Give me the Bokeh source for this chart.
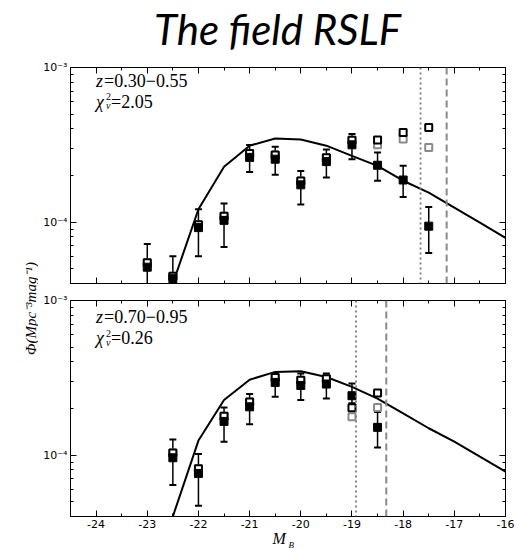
import math
from bokeh.plotting import figure
from bokeh.layouts import row, column
from bokeh.models import (ColumnDataSource, Span, Label, FixedTicker, LogAxis,
                          LinearAxis, CustomJSTickFormatter, Range1d)
from bokeh.embed import file_html
from bokeh.resources import INLINE

# ---------------- data ----------------
x_ticks = [-24, -23, -22, -21, -20, -19, -18, -17, -16]
x_tick_labels = ["-24", "-23", "-22", "-21", "-20", "-19", "-18", "-17", "-16"]
x_minor = [-24.5, -23.5, -22.5, -21.5, -20.5, -19.5, -18.5, -17.5, -16.5]
y_ticks = [1e-4, 1e-3]
y_tick_labels = ["10⁻⁴", "10⁻³"]
y_minor = [4e-5, 5e-5, 6e-5, 7e-5, 8e-5, 9e-5,
           2e-4, 3e-4, 4e-4, 5e-4, 6e-4, 7e-4, 8e-4, 9e-4]

# top panel: z = 0.30-0.55
top_mag = [-23, -22.5, -22, -21.5, -21, -20.5, -20, -19.5, -19, -18.5, -18, -17.5]
top_phi = [5.1e-5, 4.3e-5, 9.2e-5, 1.025e-4, 2.62e-4, 2.55e-4, 1.74e-4, 2.46e-4, 3.16e-4, 2.33e-4, 1.87e-4, 9.4e-5]
top_up = [7.2e-5, 6.0e-5, 1.21e-4, 1.32e-4, 3.15e-4, 3.07e-4, 2.14e-4, 2.95e-4, 3.71e-4, 2.82e-4, 2.31e-4, 1.25e-4]
top_lo = [3.0e-5, 3.0e-5, 6.0e-5, 6.9e-5, 2.11e-4, 2.02e-4, 1.30e-4, 1.94e-4, 2.55e-4, 1.85e-4, 1.45e-4, 6.3e-5]
top_open_k = [5.45e-5, 4.45e-5, 9.6e-5, 1.09e-4, 2.78e-4, 2.71e-4, 1.84e-4, 2.61e-4, 3.38e-4, 3.39e-4, 3.80e-4, 4.09e-4]
top_open_g = [5.45e-5, 4.45e-5, 9.6e-5, 1.09e-4, 2.78e-4, 2.71e-4, 1.84e-4, 2.61e-4, 3.38e-4, 3.16e-4, 3.44e-4, 3.04e-4]
top_fit_mag = [-22.5, -22, -21.5, -21, -20.5, -20, -19.5, -19, -18.5, -18, -17.5, -17, -16.5, -16]
top_fit = [4.0e-5, 1.21e-4, 2.28e-4, 3.12e-4, 3.47e-4, 3.42e-4, 3.12e-4, 2.68e-4, 2.31e-4, 1.85e-4, 1.55e-4, 1.24e-4, 9.9e-5, 7.9e-5]
top_limit_dot = -17.66
top_limit_dash = -17.15
top_z = "=0.30−0.55"
top_chi = "=2.05"

# bottom panel: z = 0.70-0.95
bot_mag = [-22.5, -22, -21.5, -21, -20.5, -20, -19.5, -19, -18.5]
bot_phi = [9.6e-5, 7.6e-5, 1.65e-4, 2.05e-4, 2.95e-4, 2.82e-4, 2.88e-4, 2.42e-4, 1.51e-4]
bot_up = [1.26e-4, 1.015e-4, 2.03e-4, 2.48e-4, 3.25e-4, 3.37e-4, 3.37e-4, 2.90e-4, 1.90e-4]
bot_lo = [6.4e-5, 4.7e-5, 1.22e-4, 1.58e-4, 2.38e-4, 2.27e-4, 2.32e-4, 2.16e-4, 1.12e-4]
bot_open_k = [1.03e-4, 8.15e-5, 1.78e-4, 2.20e-4, 3.17e-4, 3.05e-4, 3.12e-4, 2.02e-4, 2.52e-4]
bot_open_g = [1.03e-4, 8.15e-5, 1.78e-4, 2.20e-4, 3.17e-4, 3.05e-4, 3.12e-4, 1.77e-4, 2.03e-4]
bot_fit_mag = [-22.5, -22, -21.5, -21, -20.5, -20, -19.5, -19, -18.5, -18, -17.5, -17, -16.5, -16]
bot_fit = [4.0e-5, 1.24e-4, 2.27e-4, 3.07e-4, 3.45e-4, 3.48e-4, 3.20e-4, 2.76e-4, 2.32e-4, 1.86e-4, 1.49e-4, 1.22e-4, 9.75e-5, 7.8e-5]
bot_limit_dot = -18.92
bot_limit_dash = -18.33
bot_z = "=0.70−0.95"
bot_chi = "=0.26"

title_text = "The field RSLF"
y_label_text = "Φ(Mpc⁻³mag⁻¹)"
x_label_main = "M"
x_label_sub = "B"

X_RANGE = (-24.5, -16)
Y_RANGE = (4e-5, 1e-3)
FW, FH = 435, 216
LEFT_W = 38
BL, BR = 32, 10
TITLE_H = 56
XLAB_H = 17
TOTAL_H = 548
SERIF = "Liberation Serif"
TICKFONT = "DejaVu Sans"


def style_axis(ax, ticks, minor, labels=None):
    ax.ticker = FixedTicker(ticks=ticks, minor_ticks=minor)
    ax.major_tick_in = 6
    ax.major_tick_out = 0
    ax.minor_tick_in = 3
    ax.minor_tick_out = 0
    ax.axis_line_color = "black"
    ax.major_tick_line_color = "black"
    ax.minor_tick_line_color = "black"
    ax.major_label_text_font = TICKFONT
    ax.major_label_text_font_size = "11px"
    ax.major_label_text_color = "black"
    if labels is None:
        ax.formatter = CustomJSTickFormatter(code="return ''")
        ax.major_label_standoff = 0
    else:
        ax.major_label_overrides = dict(zip(ticks, labels))
        ax.major_label_standoff = 3


def plain_fig(w, h, xr, yr):
    f = figure(frame_width=w, frame_height=h, x_range=Range1d(*xr), y_range=Range1d(*yr),
               output_backend="svg", toolbar_location=None, min_border=0, title=None,
               x_axis_location=None, y_axis_location=None)
    f.grid.visible = False
    f.outline_line_color = None
    return f


def panel(mag, phi, up, lo, ok, og, fmag, fit, ldot, ldash, ztxt, chitxt, zy, chiy,
          top_border, bottom_border, show_xlabels):
    p = figure(frame_width=FW, frame_height=FH, title=None,
               x_range=Range1d(*X_RANGE), y_range=Range1d(*Y_RANGE),
               y_axis_type="log", output_backend="svg", toolbar_location=None,
               min_border_left=BL, min_border_right=BR,
               min_border_top=top_border, min_border_bottom=bottom_border)
    p.grid.visible = False
    p.outline_line_color = "black"

    style_axis(p.xaxis[0], x_ticks, x_minor, x_tick_labels if show_xlabels else None)
    style_axis(p.yaxis[0], y_ticks, y_minor, y_tick_labels)
    top_ax = LinearAxis()
    style_axis(top_ax, x_ticks, x_minor, None)
    p.add_layout(top_ax, "above")
    right_ax = LogAxis()
    style_axis(right_ax, y_ticks, y_minor, None)
    p.add_layout(right_ax, "right")

    # fitted curve
    p.line(fmag, fit, line_color="black", line_width=2)

    # completeness limits
    p.add_layout(Span(location=ldot, dimension="height", line_color="#7a7a7a",
                      line_width=1.8, line_dash="2 3"))
    p.add_layout(Span(location=ldash, dimension="height", line_color="#8a8a8a",
                      line_width=2, line_dash="7 4"))

    # error bars
    src = ColumnDataSource(dict(x=mag, y=phi, up=up, lo=lo, ok=ok, og=og))
    p.segment(x0="x", y0="lo", x1="x", y1="up", source=src, line_color="black", line_width=1.5)
    p.scatter(x="x", y="up", source=src, marker="dash", size=7, line_color="black", line_width=2)
    p.scatter(x="x", y="lo", source=src, marker="dash", size=7, line_color="black", line_width=2)

    # open squares (grey, then black), then filled squares
    p.scatter(x="x", y="og", source=src, marker="square", size=7, fill_color="white",
              line_color="#8a8a8a", line_width=2)
    p.scatter(x="x", y="ok", source=src, marker="square", size=7, fill_color="white",
              line_color="black", line_width=2)
    p.scatter(x="x", y="y", source=src, marker="square", size=8, fill_color="black",
              line_color="black", line_width=1)

    # annotations
    fs = "18px"
    p.add_layout(Label(x=-24.0, y=zy, text="z", text_font=SERIF, text_font_style="italic",
                       text_font_size=fs, text_baseline="middle", text_color="black"))
    p.add_layout(Label(x=-24.0, y=zy, x_offset=8, text=ztxt, text_font=SERIF,
                       text_font_size=fs, text_baseline="middle", text_color="black"))
    p.add_layout(Label(x=-24.0, y=chiy, text="χ", text_font=SERIF, text_font_style="italic",
                       text_font_size=fs, text_baseline="middle", text_color="black"))
    p.add_layout(Label(x=-24.0, y=chiy, x_offset=10, y_offset=5, text="2", text_font=SERIF,
                       text_font_size="10px", text_baseline="middle", text_color="black"))
    p.add_layout(Label(x=-24.0, y=chiy, x_offset=10, y_offset=-4, text="v", text_font=SERIF,
                       text_font_style="italic", text_font_size="10px", text_baseline="middle",
                       text_color="black"))
    p.add_layout(Label(x=-24.0, y=chiy, x_offset=15, text=chitxt, text_font=SERIF,
                       text_font_size=fs, text_baseline="middle", text_color="black"))
    return p


top = panel(top_mag, top_phi, top_up, top_lo, top_open_k, top_open_g, top_fit_mag, top_fit,
            top_limit_dot, top_limit_dash, top_z, top_chi, 8.2e-4, 6.0e-4, 11, 8, False)
bot = panel(bot_mag, bot_phi, bot_up, bot_lo, bot_open_k, bot_open_g, bot_fit_mag, bot_fit,
            bot_limit_dot, bot_limit_dash, bot_z, bot_chi, 7.8e-4, 5.7e-4, 9, 15, True)

# title strip (its frame lines up with the panel frames)
tf = plain_fig(FW, TITLE_H, (0, FW), (0, TITLE_H))
tf.add_layout(Label(x=207, y=28, text=title_text, text_font="Lato",
                    text_font_style="italic", text_font_size="42px", text_align="center",
                    text_baseline="middle", text_color="black"))

# x-axis label strip: M_B
xf = plain_fig(FW, XLAB_H, (0, FW), (0, XLAB_H))
xf.add_layout(Label(x=202, y=10, text=x_label_main, text_font=SERIF, text_font_style="italic",
                    text_font_size="16px", text_align="left", text_baseline="middle",
                    text_color="black"))
xf.add_layout(Label(x=218, y=4, text=x_label_sub, text_font=SERIF, text_font_style="italic",
                    text_font_size="9px", text_align="left", text_baseline="middle",
                    text_color="black"))

# y-axis label strip
lf = plain_fig(LEFT_W, TOTAL_H, (0, LEFT_W), (0, TOTAL_H))
lf.add_layout(Label(x=30, y=TOTAL_H - 308, text=y_label_text, angle=math.pi / 2,
                    text_font=SERIF, text_font_style="italic", text_font_size="15px",
                    text_align="center", text_baseline="middle", text_color="black"))

layout = row(lf, column(tf, top, bot, xf, spacing=0), spacing=0)
open("out.html", "w").write(file_html(layout, INLINE))
